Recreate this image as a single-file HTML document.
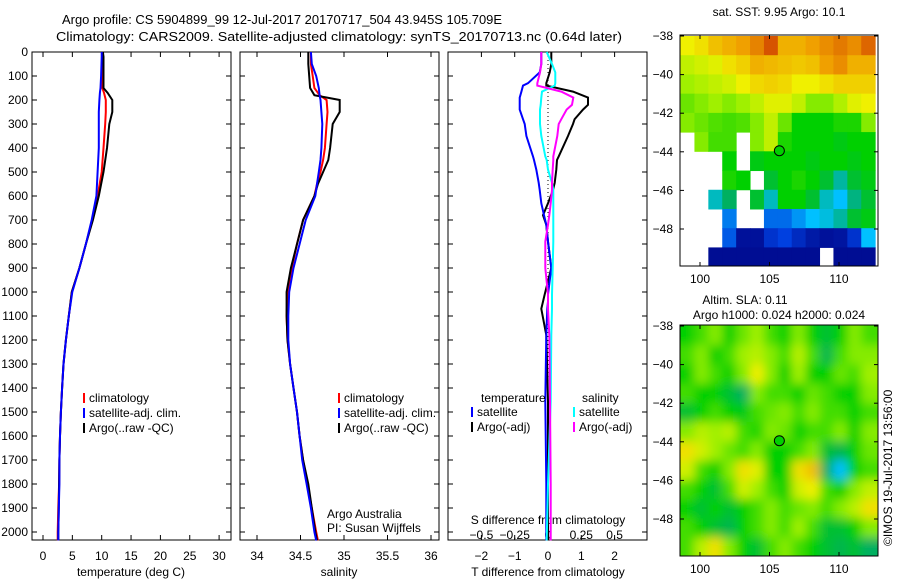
<!DOCTYPE html>
<html><head><meta charset="utf-8"><style>
body{margin:0;background:#fff;}
svg{display:block;font-family:"Liberation Sans",sans-serif;}
text{font-size:12px;fill:#000;}
</style></head><body>
<svg id="chart" width="900" height="580" viewBox="0 0 900 580" xmlns="http://www.w3.org/2000/svg">
<text x="62" y="24" textLength="440" lengthAdjust="spacingAndGlyphs" style="font-size:13px">Argo profile: CS 5904899_99 12-Jul-2017 20170717_504 43.945S 105.709E</text>
<text x="56" y="41" textLength="566" lengthAdjust="spacingAndGlyphs" style="font-size:13px">Climatology: CARS2009. Satellite-adjusted climatology: synTS_20170713.nc (0.64d later)</text>
<g id="plots"></g>
<text transform="translate(892,546) rotate(-90)" style="font-size:12px">©IMOS 19-Jul-2017 13:56:00</text>
</svg>
<script>
// ---- data ----
const depthT = [0,20,100,150,170,200,250,300,400,500,600,700,800,900,1000,1100,1200,1300,1400,1500,1600,1700,1800,1900,2000,2035];
const tempArgo = [10.2,10.3,10.3,10.3,11.0,11.8,11.8,11.3,10.9,10.3,9.5,8.5,7.3,6.2,4.9,4.4,3.9,3.5,3.25,3.05,2.9,2.8,2.75,2.7,2.6,2.6];
const tempClim = [10.1,10.1,10.1,10.1,10.4,10.7,10.7,10.6,10.3,10.0,9.3,8.4,7.3,6.2,4.9,4.4,3.9,3.5,3.25,3.05,2.9,2.8,2.75,2.6,2.5,2.5];
const tempSat = [10.0,10.0,9.9,9.8,9.7,9.6,9.5,9.5,9.5,9.3,9.1,8.3,7.3,6.2,5.0,4.4,3.9,3.5,3.25,3.05,2.9,2.8,2.8,2.7,2.6,2.6];
const depthS = [0,50,100,150,180,200,250,300,400,450,500,550,600,700,800,900,1000,1100,1200,1300,1400,1500,1600,1700,1800,1900,2000,2035];
const salArgo = [34.59,34.59,34.60,34.61,34.66,34.95,34.95,34.87,34.84,34.82,34.76,34.70,34.66,34.53,34.46,34.39,34.34,34.34,34.35,34.38,34.42,34.46,34.49,34.53,34.59,34.63,34.67,34.69];
const salClim = [34.62,34.62,34.64,34.66,34.72,34.80,34.81,34.80,34.78,34.76,34.73,34.69,34.66,34.53,34.46,34.40,34.35,34.34,34.35,34.38,34.42,34.46,34.49,34.53,34.58,34.63,34.68,34.70];
const salSat = [34.62,34.63,34.68,34.71,34.72,34.73,34.74,34.75,34.74,34.73,34.71,34.69,34.67,34.56,34.49,34.42,34.37,34.36,34.36,34.38,34.42,34.46,34.49,34.52,34.57,34.62,34.66,34.68];
const depthD = [0,50,85,130,140,165,190,220,240,280,300,350,435,450,490,545,575,630,680,720,790,900,1010,1040,1070,1180,1455,1800,2035];
const tdiffArgo = [0.1,0.1,0.05,-0.05,-0.05,0.75,1.2,1.2,1.05,0.8,0.75,0.6,0.32,0.27,0.25,0.2,0.15,0.0,-0.15,-0.05,0.0,0.1,-0.1,-0.15,-0.2,-0.05,0.0,0.0,0.0];
const tdiffSat = [-0.2,-0.2,-0.25,-0.6,-0.75,-0.8,-0.85,-0.85,-0.85,-0.75,-0.7,-0.65,-0.45,-0.42,-0.35,-0.28,-0.25,-0.2,-0.12,-0.05,0.0,0.1,0.0,0.0,-0.02,-0.05,-0.08,-0.05,-0.05];
const sdiffSat = [-0.01,0.03,0.055,0.055,0.05,-0.045,-0.05,-0.055,-0.06,-0.06,-0.06,-0.05,-0.02,-0.01,0.0,0.03,0.04,0.04,0.04,0.04,0.04,0.035,0.03,0.03,0.03,0.025,0.02,0.0,-0.01];
const sdiffArgo = [-0.05,-0.05,-0.06,-0.08,-0.08,0.1,0.19,0.18,0.14,0.1,0.08,0.07,0.04,0.04,0.035,0.03,0.03,0.02,0.01,0.0,-0.02,-0.02,0.0,0.0,0.0,0.01,0.015,0.02,0.02];
const tTicks = [0,5,10,15,20,25,30];
const sTicks = [34,34.5,35,35.5,36];
const tdTicks = [-2,-1,0,1,2];
const sdTicks = [-0.5,-0.25,0,0.25,0.5];
const depthTicks = [0,100,200,300,400,500,600,700,800,900,1000,1100,1200,1300,1400,1500,1600,1700,1800,1900,2000];
const lonTicks = [100,105,110];
const latTicks = [-38,-40,-42,-44,-46,-48];
const argoLon = 105.709, argoLat = -43.945;
const sstGrid = [
[0.72,0.74,0.78,0.8,0.82,0.85,0.9,0.8,0.8,0.82,0.84,0.86,0.84,0.88],
[0.66,0.68,0.7,0.74,0.76,0.8,0.79,0.78,0.77,0.78,0.82,0.84,0.8,0.8],
[0.62,0.64,0.66,0.68,0.72,0.75,0.76,0.75,0.72,0.72,0.74,0.76,0.76,0.76],
[0.58,0.6,0.62,0.6,0.62,0.66,0.7,0.7,0.66,0.6,0.6,0.64,0.7,0.72],
[0.6,0.58,0.56,0.55,0.56,0.6,0.66,0.58,0.5,0.5,0.5,0.52,0.52,0.6],
[null,0.6,0.55,0.55,null,0.6,0.66,0.52,0.5,0.5,0.5,0.48,0.5,0.5],
[null,null,null,0.5,null,0.48,0.5,0.5,0.5,0.48,0.5,0.5,0.48,0.5],
[null,null,null,0.52,0.5,null,0.45,0.5,0.52,0.5,0.45,0.36,0.45,0.48],
[null,null,0.34,0.4,null,0.45,0.34,0.5,0.5,0.45,0.34,0.3,0.38,0.45],
[null,null,null,0.22,null,null,0.2,0.2,0.25,0.3,0.32,0.36,0.45,0.48],
[null,null,null,0.18,0.04,0.04,0.12,0.15,0.1,0.06,0.04,0.05,0.12,0.3],
[null,null,0.03,0.03,0.03,0.03,0.03,0.03,0.03,0.03,null,0.03,0.03,0.03]];
const slaGrid = [
[.5,.55,.6,.5,.58,.62,.55,.5,.6,.5,.45,.5,.6,.55],
[.55,.6,.5,.55,.62,.65,.6,.55,.65,.55,.42,.55,.6,.6],
[.5,.6,.55,.5,.6,.72,.6,.5,.62,.5,.5,.58,.55,.62],
[.55,.5,.5,.45,.4,.6,.55,.55,.5,.58,.55,.5,.5,.6],
[.45,.5,.55,.5,.48,.55,.58,.6,.55,.6,.55,.55,.5,.55],
[.6,.65,.62,.65,.55,.52,.6,.58,.5,.55,.55,.6,.5,.6],
[.74,.68,.62,.58,.55,.6,.5,.5,.55,.6,.45,.42,.5,.58],
[.68,.55,.5,.6,.74,.7,.5,.5,.74,.78,.4,.3,.5,.55],
[.55,.5,.45,.55,.68,.62,.55,.5,.68,.72,.55,.5,.6,.66],
[.5,.45,.5,.45,.5,.55,.6,.55,.58,.6,.55,.6,.65,.74],
[.55,.5,.45,.42,.5,.55,.6,.55,.62,.55,.45,.45,.5,.6],
[.55,.65,.74,.6,.5,.45,.55,.6,.55,.5,.45,.42,.45,.4]];
// ---- drawing ----
const NS='http://www.w3.org/2000/svg';
const root=document.getElementById('plots');
function el(tag,attrs,parent){const e=document.createElementNS(NS,tag);for(const k in attrs)e.setAttribute(k,attrs[k]);(parent||root).appendChild(e);return e;}
function txt(x,y,s,anchor,parent){const t=el('text',{x:x,y:y,'text-anchor':anchor||'start'},parent);t.textContent=s;return t;}
const Y0=52,Y1=540;
const yD=d=>Y0+d*0.24;
function panel(name,x0,x1,sx,ticks){
  const g=el('g',{});
  
  
  el('rect',{x:x0,y:Y0,width:x1-x0,height:Y1-Y0,fill:'none',stroke:'#000','stroke-width':1},g);
  depthTicks.forEach(d=>{el('line',{x1:x0,x2:x0+5,y1:yD(d),y2:yD(d),stroke:'#000'},g);el('line',{x1:x1-5,x2:x1,y1:yD(d),y2:yD(d),stroke:'#000'},g);});
  ticks.forEach(v=>{const x=sx(v);el('line',{x1:x,x2:x,y1:Y1,y2:Y1-5,stroke:'#000'},g);el('line',{x1:x,x2:x,y1:Y0,y2:Y0+5,stroke:'#000'},g);});
  return g;
}
function line(g,name,xs,ds,sx,color){
  const p=el('polyline',{points:xs.map((v,i)=>sx(v).toFixed(1)+','+yD(ds[i]).toFixed(1)).join(' '),fill:'none',stroke:color,'stroke-width':2},g);
  
  
}
function legend(g,x,y,color,label){
  el('rect',{x:x,y:y-9,width:2,height:10,fill:color},g);
  txt(x+6,y,label,'start',g);
}
// panel 1
const sxT=v=>43+v*5.87;
const g1=panel('temperature-panel',32,231,sxT,tTicks);
depthTicks.forEach(d=>{txt(28,yD(d)+4,String(d),'end',g1);});
tTicks.forEach(v=>txt(sxT(v),560,String(v),'middle',g1));
txt(131,576,'temperature (deg C)','middle',g1);
line(g1,'temp-climatology-line',tempClim,depthT,sxT,'#f00');
line(g1,'temp-argo-line',tempArgo,depthT,sxT,'#000');
line(g1,'temp-satellite-line',tempSat,depthT,sxT,'#00f');
legend(g1,83,402,'#f00','climatology');legend(g1,83,417,'#00f','satellite-adj. clim.');legend(g1,83,432,'#000','Argo(..raw -QC)');
// panel 2
const sxS=v=>257+(v-34)*87;
const g2=panel('salinity-panel',240,439,sxS,sTicks);
sTicks.forEach(v=>txt(sxS(v),560,String(v),'middle',g2));
txt(339,576,'salinity','middle',g2);
line(g2,'sal-climatology-line',salClim,depthS,sxS,'#f00');
line(g2,'sal-argo-line',salArgo,depthS,sxS,'#000');
line(g2,'sal-satellite-line',salSat,depthS,sxS,'#00f');
legend(g2,338,402,'#f00','climatology');legend(g2,338,417,'#00f','satellite-adj. clim.');legend(g2,338,432,'#000','Argo(..raw -QC)');
txt(327,518,'Argo Australia','start',g2);txt(327,532,'PI: Susan Wijffels','start',g2);
// panel 3
const sxTD=v=>548+v*33.3;
const sxSD=v=>548+v*133.2;
const g3=panel('difference-panel',448,647,sxTD,tdTicks);
el('line',{x1:548,x2:548,y1:Y0,y2:Y1,stroke:'#000','stroke-dasharray':'1,3'},g3);
tdTicks.forEach(v=>txt(sxTD(v),560,String(v).replace('-','\u2212'),'middle',g3));
sdTicks.forEach(v=>txt(sxSD(v),539,String(v).replace('-','\u2212'),'middle',g3));
txt(548,524,'S difference from climatology','middle',g3);
txt(548,576,'T difference from climatology','middle',g3);
line(g3,'tdiff-argo-line',tdiffArgo,depthD,sxTD,'#000');
line(g3,'tdiff-satellite-line',tdiffSat,depthD,sxTD,'#00f');
line(g3,'sdiff-satellite-line',sdiffSat,depthD,sxSD,'#0ff');
line(g3,'sdiff-argo-line',sdiffArgo,depthD,sxSD,'#f0f');
txt(481,402,'temperature','start',g3);txt(582,402,'salinity','start',g3);
legend(g3,471,416,'#00f','satellite');legend(g3,471,431,'#000','Argo(-adj)');
legend(g3,573,416,'#0ff','satellite');legend(g3,573,431,'#f0f','Argo(-adj)');
// maps
const stops=[[0,[0,0,128]],[0.15,[0,64,224]],[0.3,[0,192,255]],[0.4,[0,176,96]],[0.5,[0,208,0]],[0.62,[160,240,0]],[0.72,[240,240,0]],[0.82,[240,160,0]],[0.92,[208,64,0]],[1,[160,16,0]]];
function cmap(v){for(let i=1;i<stops.length;i++){if(v<=stops[i][0]){const a=stops[i-1],b=stops[i],t=(v-a[0])/(b[0]-a[0]);return 'rgb('+a[1].map((c,k)=>Math.round(c+(b[1][k]-c)*t)).join(',')+')';}}return 'rgb(160,16,0)';}
function map(name,top,grid,blur){
  const X0=680,X1=878,Yb=top+231;
  const sxL=lon=>700+(lon-100)*13.9;
  const syL=lat=>top+1+(-38-lat)*19.3;
  const g=el('g',{});
  
  
  const cid='clip'+top;
  const cp=el('clipPath',{id:cid},g);el('rect',{x:X0,y:top,width:X1-X0,height:Yb-top},cp);
  if(blur){const f=el('filter',{id:'bl'+top,x:'-10%',y:'-10%',width:'120%',height:'120%'},g);el('feGaussianBlur',{stdDeviation:5},f);}
  const cg=el('g',{'clip-path':'url(#'+cid+')'},g);
  if(blur) el('rect',{x:X0,y:top,width:X1-X0,height:Yb-top,fill:cmap(0.55)},cg);
  const ig=el('g',blur?{filter:'url(#bl'+top+')'}:{},cg);
  grid.forEach((row,r)=>row.forEach((v,c)=>{if(v===null)return;
    const lon=98.6+c, lat=-38-r*(11.95/12);
    const ex=blur?(c==0?-20:0):0, ey=blur?(r==0?-20:0):0;
    const rc=el('rect',{x:sxL(lon)+ex,y:syL(lat)+ey,width:14.4-ex+(blur&&c==13?20:0),height:19.3*11.95/12+0.5-ey+(blur&&r==11?20:0),fill:cmap(v)},ig);
    
    
  }));
  el('rect',{x:X0,y:top,width:X1-X0,height:Yb-top,fill:'none',stroke:'#000'},g);
  lonTicks.forEach(l=>{const x=sxL(l);el('line',{x1:x,x2:x,y1:Yb,y2:Yb-4,stroke:'#000'},g);el('line',{x1:x,x2:x,y1:top,y2:top+4,stroke:'#000'},g);txt(x,Yb+17,String(l),'middle',g);});
  latTicks.forEach(l=>{const y=syL(l);el('line',{x1:X0,x2:X0+4,y1:y,y2:y,stroke:'#000'},g);el('line',{x1:X1-4,x2:X1,y1:y,y2:y,stroke:'#000'},g);txt(673,y+4,String(l).replace('-','\u2212'),'end',g);});
  const c=el('circle',{cx:sxL(argoLon),cy:syL(argoLat),r:5,fill:cmap(0.5),stroke:'#000','stroke-width':1},g);
  
  
  return g;
}
const m1=map('sst-map',35,sstGrid,false);
txt(779,16,'sat. SST: 9.95 Argo: 10.1','middle',m1);
const m2=map('sla-map',325,slaGrid,true);
txt(745,304,'Altim. SLA: 0.11','middle',m2);
txt(779,319,'Argo h1000: 0.024 h2000: 0.024','middle',m2);
</script>
</body></html>
